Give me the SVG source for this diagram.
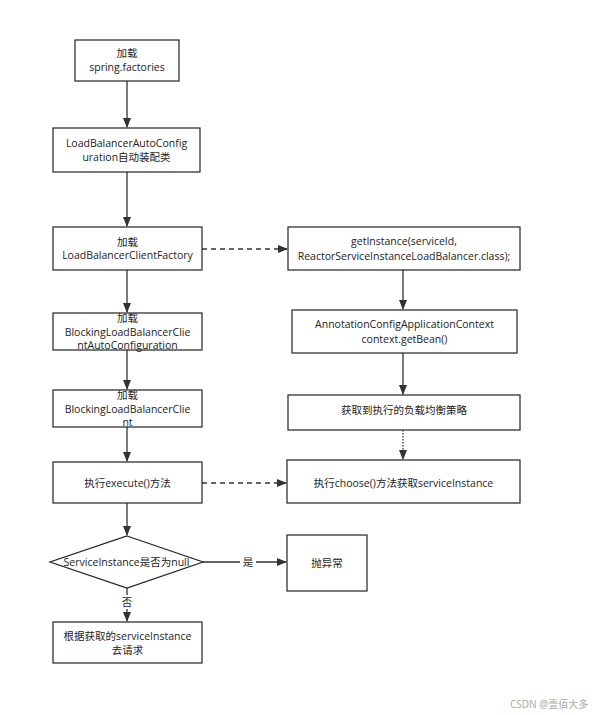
<svg xmlns="http://www.w3.org/2000/svg" width="597" height="715" viewBox="0 0 597 715">
<style>
.n{fill:#fff;stroke:#222;stroke-width:1.2}
.t{font-family:"Open Sans","Noto Sans","Noto Sans CJK SC",sans-serif;font-size:10.5px;fill:#222;text-anchor:middle}
.e{stroke:#333;stroke-width:1.3;fill:none}
.d{stroke-dasharray:5 4}
.o{stroke-dasharray:1.5 1.5}
.w{font-family:"Noto Sans","Noto Sans CJK SC",sans-serif;font-size:10px;fill:#aaa}
</style>
<defs>
<marker id="a" markerWidth="10" markerHeight="8" refX="9" refY="4" orient="auto" markerUnits="userSpaceOnUse">
<path d="M0,0 L10,4 L0,8 Z" fill="#333"/>
</marker>
</defs>
<rect width="597" height="715" fill="#fff"/>
<g id="connectors">
<line class="e" x1="127" y1="81" x2="127" y2="127" marker-end="url(#a)"/>
<line class="e" x1="127" y1="172" x2="127" y2="226" marker-end="url(#a)"/>
<line class="e" x1="127" y1="270" x2="127" y2="312" marker-end="url(#a)"/>
<line class="e" x1="127" y1="350" x2="127" y2="389" marker-end="url(#a)"/>
<line class="e" x1="127" y1="427" x2="127" y2="461" marker-end="url(#a)"/>
<line class="e" x1="127" y1="503" x2="127" y2="535" marker-end="url(#a)"/>
<line class="e" x1="127" y1="588" x2="127" y2="621" marker-end="url(#a)"/>
<line class="e d" x1="202" y1="249" x2="287" y2="249" marker-end="url(#a)"/>
<line class="e d" x1="202" y1="483" x2="286" y2="483" marker-end="url(#a)"/>
<line class="e" x1="403" y1="270" x2="403" y2="309" marker-end="url(#a)"/>
<line class="e" x1="403" y1="353" x2="403" y2="394" marker-end="url(#a)"/>
<line class="e o" x1="403" y1="430" x2="403" y2="459" marker-end="url(#a)"/>
<line class="e" x1="203" y1="562" x2="286" y2="562" marker-end="url(#a)"/>
<rect x="240" y="555" width="16" height="14" fill="#fff"/>
<text class="t" x="248" y="566">是</text>
<rect x="119" y="595" width="16" height="14" fill="#fff"/>
<text class="t" x="127" y="606">否</text>
</g>
<g id="n1"><rect class="n" x="75" y="40" width="104" height="41"/><text class="t" x="127" y="57">加载</text><text class="t" x="127" y="71">spring.factories</text></g>
<g id="n2"><rect class="n" x="53" y="128" width="147" height="44"/><text class="t" x="126.5" y="147">LoadBalancerAutoConfig</text><text class="t" x="126.5" y="161">uration自动装配类</text></g>
<g id="n3"><rect class="n" x="53" y="227" width="149" height="43"/><text class="t" x="127.5" y="246">加载</text><text class="t" x="127.5" y="259">LoadBalancerClientFactory</text></g>
<g id="n4"><rect class="n" x="53" y="313" width="149" height="37"/><text class="t" x="127.5" y="322">加载</text><text class="t" x="127.5" y="336">BlockingLoadBalancerClie</text><text class="t" x="127.5" y="349">ntAutoConfiguration</text></g>
<g id="n5"><rect class="n" x="53" y="390" width="149" height="37"/><text class="t" x="127.5" y="399">加载</text><text class="t" x="127.5" y="413">BlockingLoadBalancerClie</text><text class="t" x="127.5" y="426">nt</text></g>
<g id="n6"><rect class="n" x="53" y="462" width="149" height="41"/><text class="t" x="127.5" y="487">执行execute()方法</text></g>
<g id="n7"><polygon class="n" points="127,536 203,562 127,588 50,562"/><text class="t" x="126.5" y="566">ServiceInstance是否为null</text></g>
<g id="n8"><rect class="n" x="53" y="622" width="149" height="41"/><text class="t" x="127.5" y="640">根据获取的serviceInstance</text><text class="t" x="127.5" y="654">去请求</text></g>
<g id="r1"><rect class="n" x="288" y="227" width="232" height="43"/><text class="t" x="404" y="245">getInstance(serviceId,</text><text class="t" x="404" y="260">ReactorServiceInstanceLoadBalancer.class);</text></g>
<g id="r2"><rect class="n" x="292" y="310" width="225" height="43"/><text class="t" x="404.5" y="328">AnnotationConfigApplicationContext</text><text class="t" x="404.5" y="343">context.getBean()</text></g>
<g id="r3"><rect class="n" x="288" y="395" width="232" height="35"/><text class="t" x="404" y="414">获取到执行的负载均衡策略</text></g>
<g id="r4"><rect class="n" x="287" y="460" width="233" height="43"/><text class="t" x="403.5" y="487">执行choose()方法获取serviceInstance</text></g>
<g id="r5"><rect class="n" x="287" y="535" width="80" height="56"/><text class="t" x="327" y="567">抛异常</text></g>
<text class="w" x="510" y="708">CSDN @壹佰大多</text>
</svg>
